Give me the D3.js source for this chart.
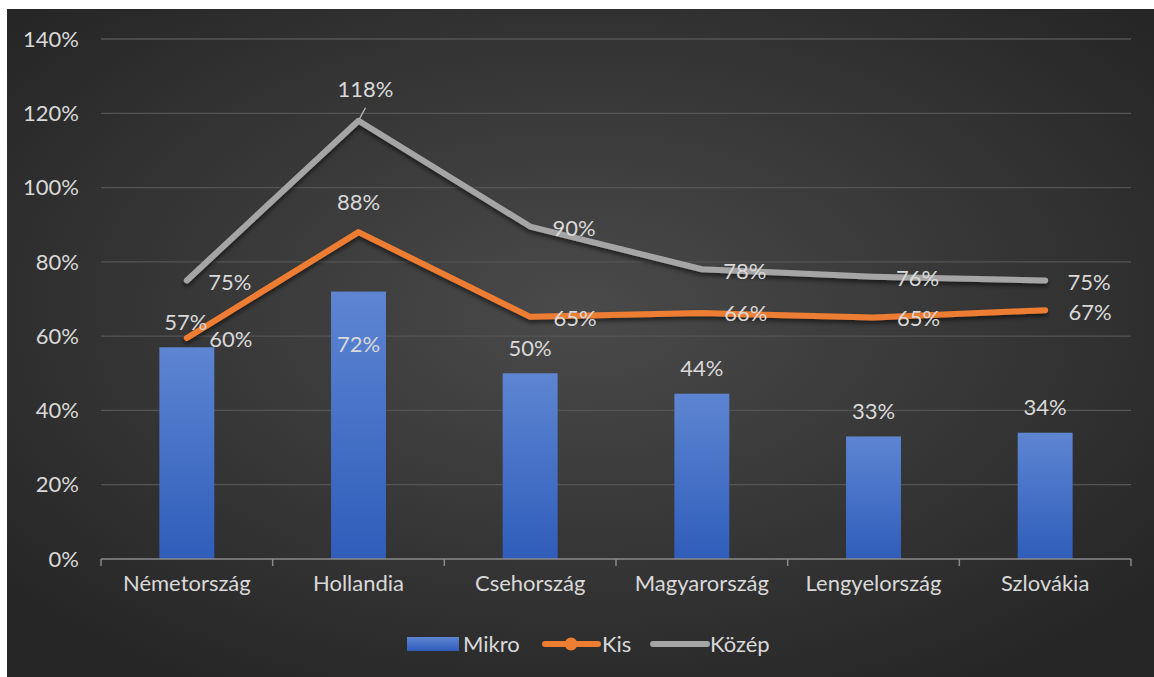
<!DOCTYPE html>
<html>
<head>
<meta charset="utf-8">
<script src="https://cdn.jsdelivr.net/npm/d3@7"></script>
<style>
  html, body { margin: 0; padding: 0; background: #fff; }
  svg { display: block; }
  text { font-family: Lato, "Noto Sans", sans-serif; }
</style>
</head>
<body>
<div id="chart"></div>
<script>
(function(){
    // data
    var categories = ['Németország', 'Hollandia', 'Csehország', 'Magyarország', 'Lengyelország', 'Szlovákia'];
    var mikro  = [57, 72, 50, 44.5, 33, 34];
    var kis    = [59.5, 88, 65.2, 66.2, 65, 67];
    var kozep  = [75, 118, 89.5, 78, 76, 75];
    var mikroLabels = ['57%', '72%', '50%', '44%', '33%', '34%'];
    var kisLabels   = ['60%', '88%', '65%', '66%', '65%', '67%'];
    var kozepLabels = ['75%', '118%', '90%', '78%', '76%', '75%'];
    var yTicks = [0, 20, 40, 60, 80, 100, 120, 140];

    var WIDTH = 1154, HEIGHT = 677;
    var FONT = 22;
    var margin = {left: 101, right: 23, top: 39, bottom: 118};

    var svg = d3.select('#chart').append('svg')
        .attr('width', WIDTH)
        .attr('height', HEIGHT);

    var defs = svg.append('defs');

    var bg = defs.append('radialGradient').attr('id', 'bg')
        .attr('cx', '50%').attr('cy', '45%').attr('r', '65%');
    bg.append('stop').attr('offset', '0%').attr('stop-color', '#4a4a4a');
    bg.append('stop').attr('offset', '100%').attr('stop-color', '#262626');

    var barGrad = defs.append('linearGradient').attr('id', 'barGrad')
        .attr('x1', 0).attr('y1', 0).attr('x2', 0).attr('y2', 1);
    barGrad.append('stop').attr('offset', '0%').attr('stop-color', '#5d85d2');
    barGrad.append('stop').attr('offset', '100%').attr('stop-color', '#2f5dba');

    var shadow = defs.append('filter').attr('id', 'shadow')
        .attr('x', '-10%').attr('y', '-30%').attr('width', '120%').attr('height', '160%');
    shadow.append('feDropShadow').attr('dx', 0).attr('dy', 3).attr('stdDeviation', 2)
        .attr('flood-color', '#000').attr('flood-opacity', 0.55);

    // background
    svg.append('rect')
        .attr('x', 7).attr('y', 9)
        .attr('width', WIDTH - 7).attr('height', HEIGHT - 9)
        .attr('fill', 'url(#bg)');

    var x = d3.scaleBand()
        .domain(categories)
        .range([margin.left, WIDTH - margin.right])
        .paddingInner(0.68).paddingOuter(0.34);

    var xOuter = d3.scaleBand()
        .domain(categories)
        .range([margin.left, WIDTH - margin.right]);

    var y = d3.scaleLinear()
        .domain([0, 140])
        .range([HEIGHT - margin.bottom, margin.top]);

    var textColor = '#d9d9d9';

    // gridlines
    svg.append('g').selectAll('line')
        .data(yTicks.filter(function(d){ return d > 0; }))
        .enter().append('line')
        .attr('x1', margin.left).attr('x2', WIDTH - margin.right)
        .attr('y1', function(d){ return y(d); })
        .attr('y2', function(d){ return y(d); })
        .attr('stroke', '#555')
        .attr('stroke-width', 1.3);

    // y axis labels
    svg.append('g').selectAll('text')
        .data(yTicks)
        .enter().append('text')
        .attr('x', 79)
        .attr('y', function(d){ return y(d); })
        .attr('dy', '0.35em')
        .attr('text-anchor', 'end')
        .attr('fill', textColor)
        .attr('font-size', FONT)
        .text(function(d){ return d + '%'; });

    // bars
    svg.append('g').selectAll('rect')
        .data(mikro)
        .enter().append('rect')
        .attr('x', function(d, i){ return x(categories[i]); })
        .attr('y', function(d){ return y(d); })
        .attr('width', x.bandwidth())
        .attr('height', function(d){ return y(0) - y(d); })
        .attr('fill', 'url(#barGrad)');

    // x axis
    var xAxis = svg.append('g')
        .attr('transform', 'translate(0,' + y(0) + ')');
    xAxis.append('line')
        .attr('x1', margin.left).attr('x2', WIDTH - margin.right)
        .attr('stroke', '#8a8a8a').attr('stroke-width', 1.5);
    var tickXs = categories.map(function(c){ return xOuter(c); }).concat([WIDTH - margin.right]);
    xAxis.selectAll('line.tick')
        .data(tickXs)
        .enter().append('line').attr('class', 'tick')
        .attr('x1', function(d){ return d; }).attr('x2', function(d){ return d; })
        .attr('y1', 0).attr('y2', 7)
        .attr('stroke', '#8a8a8a').attr('stroke-width', 1.5);
    xAxis.selectAll('text')
        .data(categories)
        .enter().append('text')
        .attr('x', function(d){ return xOuter(d) + xOuter.bandwidth() / 2; })
        .attr('y', 32)
        .attr('text-anchor', 'middle')
        .attr('fill', textColor)
        .attr('font-size', FONT)
        .text(function(d){ return d; });

    var cx = function(i){ return xOuter(categories[i]) + xOuter.bandwidth() / 2; };

    var line = d3.line()
        .x(function(d, i){ return cx(i); })
        .y(function(d){ return y(d); });

    // Közép line
    svg.append('path')
        .datum(kozep)
        .attr('d', line)
        .attr('fill', 'none')
        .attr('stroke', '#a5a5a5')
        .attr('stroke-width', 6)
        .attr('stroke-linecap', 'round')
        .attr('stroke-linejoin', 'round')
        .attr('filter', 'url(#shadow)');

    // Kis line
    svg.append('path')
        .datum(kis)
        .attr('d', line)
        .attr('fill', 'none')
        .attr('stroke', '#ed7d31')
        .attr('stroke-width', 6)
        .attr('stroke-linecap', 'round')
        .attr('stroke-linejoin', 'round')
        .attr('filter', 'url(#shadow)');

    // leader line for 118%
    svg.append('line')
        .attr('x1', cx(1) + 1).attr('y1', y(kozep[1]) - 2)
        .attr('x2', cx(1) + 7).attr('y2', y(kozep[1]) - 13)
        .attr('stroke', '#bfbfbf').attr('stroke-width', 1.3);

    // data labels (offsets relative to each point)
    var labels = svg.append('g')
        .attr('fill', textColor)
        .attr('font-size', FONT)
        .attr('text-anchor', 'middle');

    function addLabels(vals, texts, offsets){
        labels.selectAll(null)
            .data(vals)
            .enter().append('text')
            .attr('x', function(d, i){ return cx(i) + offsets[i][0]; })
            .attr('y', function(d, i){ return y(d) + offsets[i][1]; })
            .attr('dy', '0.35em')
            .text(function(d, i){ return texts[i]; });
    }

    addLabels(mikro, mikroLabels, [[-1, -25], [0, 53], [0, -25], [0, -25], [0, -25], [0, -25]]);
    addLabels(kis, kisLabels, [[44, 1], [0, -30], [45, 1], [44, 0], [45, 1], [45, 2]]);
    addLabels(kozep, kozepLabels, [[43, 2], [7, -31], [44, 2], [43, 2], [44, 2], [44, 2]]);

    // legend
    var legend = svg.append('g').attr('transform', 'translate(0,644)');
    legend.append('rect')
        .attr('x', 407).attr('y', -7).attr('width', 52).attr('height', 14)
        .attr('fill', 'url(#barGrad)');
    legend.append('text').attr('x', 463).attr('dy', '0.35em')
        .attr('fill', textColor).attr('font-size', FONT).text('Mikro');
    legend.append('line')
        .attr('x1', 545).attr('x2', 598)
        .attr('stroke', '#ed7d31').attr('stroke-width', 6).attr('stroke-linecap', 'round');
    legend.append('circle')
        .attr('cx', 571).attr('r', 6.5).attr('fill', '#ed7d31');
    legend.append('text').attr('x', 602).attr('dy', '0.35em')
        .attr('fill', textColor).attr('font-size', FONT).text('Kis');
    legend.append('line')
        .attr('x1', 653).attr('x2', 707)
        .attr('stroke', '#a5a5a5').attr('stroke-width', 6).attr('stroke-linecap', 'round');
    legend.append('text').attr('x', 710).attr('dy', '0.35em')
        .attr('fill', textColor).attr('font-size', FONT).text('Közép');
})();
</script>
</body>
</html>
